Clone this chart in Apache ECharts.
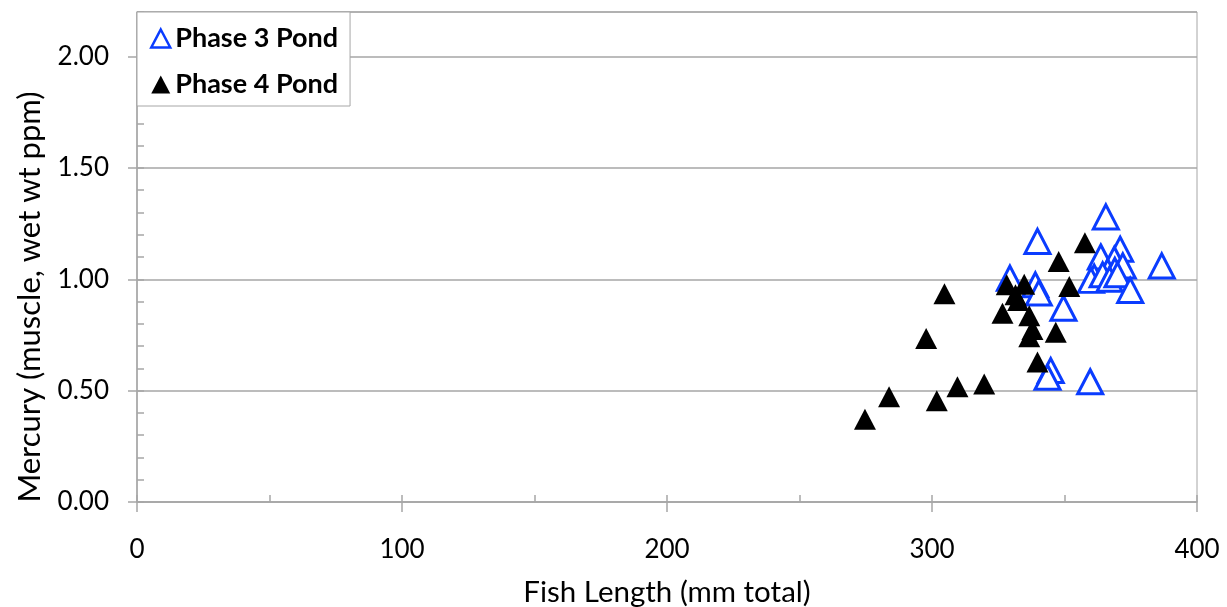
<!DOCTYPE html>
<html><head><meta charset="utf-8">
<script src="https://cdn.jsdelivr.net/npm/echarts@6/dist/echarts.min.js"></script>
<style>html,body{margin:0;padding:0;background:#fff}#c{width:1227px;height:607px}</style>
</head><body><div id="c"></div>
<script>
var seriesNames = ['Phase 3 Pond', 'Phase 4 Pond'];
var phase3Length = [365.6, 339.8, 386.7, 371.0, 363.7, 368.8, 361.2, 366.3, 360.0, 364.4, 369.0, 372.0, 367.0, 370.0, 374.8, 329.4, 339.0, 340.3, 349.6, 344.8, 343.6, 359.7];
var phase3Mercury = [1.28, 1.17, 1.06, 1.135, 1.10, 1.09, 1.01, 1.035, 0.995, 1.02, 1.04, 1.06, 1.00, 1.02, 0.95, 1.005, 0.975, 0.938, 0.87, 0.59, 0.56, 0.54];
var phase4Length = [274.7, 283.8, 301.8, 309.6, 319.7, 297.8, 304.7, 357.7, 347.8, 351.8, 328.2, 334.8, 331.5, 332.5, 326.6, 336.7, 337.9, 336.7, 346.7, 339.8];
var phase4Mercury = [0.372, 0.473, 0.455, 0.517, 0.530, 0.734, 0.935, 1.164, 1.080, 0.968, 0.975, 0.978, 0.93, 0.905, 0.848, 0.836, 0.775, 0.742, 0.762, 0.629];
var xTitle = 'Fish Length (mm total)';
var yTitle = 'Mercury (muscle, wet wt ppm)';

function pairs(xs, ys) { return xs.map(function (x, i) { return [x, ys[i]]; }); }

var FONT = 'Lato';
var GRAY = '#a6a6a6';
var BLUE = '#0a3cff';
var chart = echarts.init(document.getElementById('c'), null, {renderer: 'canvas'});
chart.setOption({
  animation: false,
  backgroundColor: '#fff',
  grid: {left: 137, top: 12, right: 30, bottom: 105, show: true, borderColor: GRAY, borderWidth: 1,
    containLabel: false, outerBoundsMode: 'none'},
  legend: {
    orient: 'vertical', left: 137, top: 12,
    backgroundColor: '#fff', borderColor: GRAY, borderWidth: 1,
    padding: [12, 12, 7, 13], itemGap: 17, itemWidth: 19, itemHeight: 18,
    textStyle: {fontFamily: FONT, fontWeight: 'bold', fontSize: 27, color: '#000', lineHeight: 29},
    data: [
      {name: seriesNames[0], icon: 'triangle', itemStyle: {color: '#fff', borderColor: BLUE, borderWidth: 2.5}},
      {name: seriesNames[1], icon: 'triangle', itemStyle: {color: '#000', borderWidth: 0}}
    ]
  },
  xAxis: [{
    type: 'value', min: 0, max: 400, interval: 100, position: 'bottom',
    name: xTitle, nameLocation: 'middle', nameGap: 75,
    nameTextStyle: {fontFamily: FONT, fontSize: 29.5, color: '#000'},
    axisLine: {lineStyle: {color: GRAY, width: 1.5}},
    axisTick: {show: true, inside: false, length: 10, lineStyle: {color: GRAY, width: 1.5}},
    axisLabel: {fontFamily: FONT, fontSize: 26, color: '#000', margin: 35},
    splitLine: {show: false}
  }, {
    type: 'value', min: 0, max: 400, interval: 50, position: 'bottom', offset: 0,
    axisLine: {show: false},
    axisTick: {show: true, inside: true, length: 7, lineStyle: {color: GRAY, width: 1.5}},
    axisLabel: {show: false}, splitLine: {show: false}
  }],
  yAxis: [{
    type: 'value', min: 0, max: 2.2, interval: 0.5, position: 'left',
    name: yTitle, nameLocation: 'middle', nameGap: 92,
    nameTextStyle: {fontFamily: FONT, fontSize: 31, color: '#000', padding: [0, 80, 0, 0]},
    axisLine: {show: true, lineStyle: {color: GRAY, width: 1.5}},
    axisTick: {show: true, inside: false, length: 9, lineStyle: {color: GRAY, width: 1.5}},
    axisLabel: {fontFamily: FONT, fontSize: 26, color: '#000', margin: 28, showMaxLabel: false,
      formatter: function (v) { return v.toFixed(2); }},
    splitLine: {show: true, lineStyle: {color: GRAY, width: 1.5}}
  }, {
    type: 'value', min: 0, max: 2.2, interval: 0.1, position: 'left', offset: 0,
    axisLine: {show: false},
    axisTick: {show: true, inside: true, length: 7, lineStyle: {color: GRAY, width: 1.5}},
    axisLabel: {show: false}, splitLine: {show: false}
  }],
  series: [{
    name: seriesNames[0], type: 'scatter', xAxisIndex: 0, yAxisIndex: 0, z: 3,
    symbol: 'triangle', symbolSize: [25, 24],
    itemStyle: {color: '#fff', borderColor: BLUE, borderWidth: 3, opacity: 1},
    data: pairs(phase3Length, phase3Mercury)
  }, {
    name: seriesNames[1], type: 'scatter', xAxisIndex: 0, yAxisIndex: 0, z: 4,
    symbol: 'triangle', symbolSize: [22, 21],
    itemStyle: {color: '#000', opacity: 1},
    data: pairs(phase4Length, phase4Mercury)
  }]
});
</script></body></html>
